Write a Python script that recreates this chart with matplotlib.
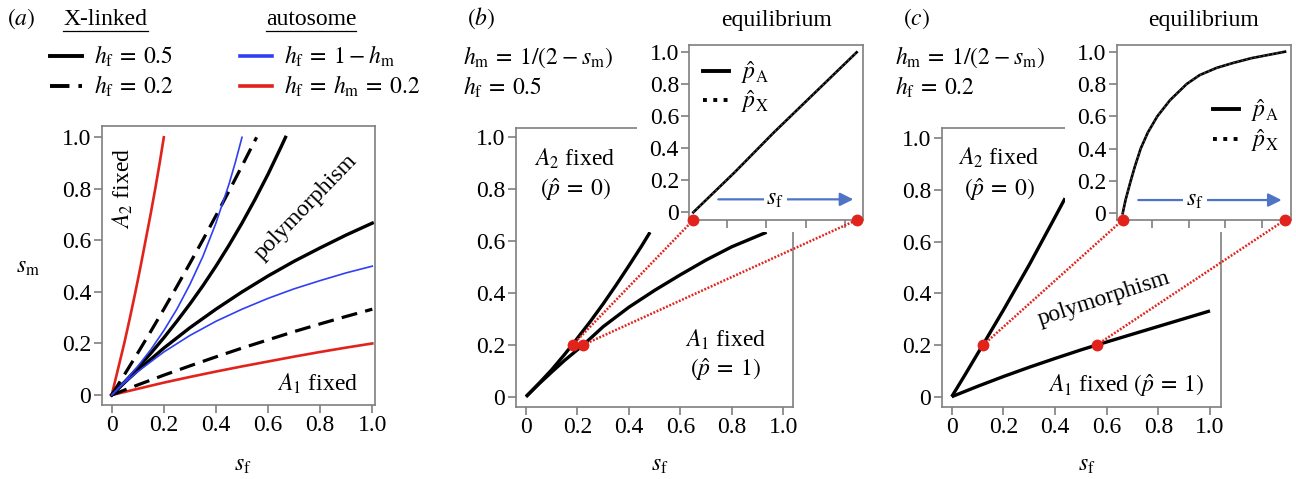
import numpy as np
import matplotlib
matplotlib.use('Agg')
import matplotlib.pyplot as plt
from matplotlib.patches import Rectangle
from matplotlib.lines import Line2D

plt.rcParams['font.family'] = ['Liberation Serif', 'DejaVu Serif']
plt.rcParams['mathtext.fontset'] = 'stix'
plt.rcParams['font.size'] = 17

#-------------------------------- DATA --------------------------------------------------------
# panel (a): boundaries of the polymorphic region, s_m against s_f
sf_x05_up = [0, 0.05, 0.1, 0.15, 0.2, 0.25, 0.3, 0.35, 0.4, 0.45, 0.5, 0.55, 0.6, 0.65, 0.667]
sm_x05_up = [0, 0.051, 0.105, 0.162, 0.222, 0.286, 0.353, 0.424, 0.5, 0.581, 0.667, 0.759,
             0.857, 0.963, 1.0]
sf_x05_lo = [0, 0.05, 0.1, 0.2, 0.3, 0.4, 0.5, 0.6, 0.7, 0.8, 0.9, 1.0]
sm_x05_lo = [0, 0.049, 0.095, 0.182, 0.261, 0.333, 0.4, 0.462, 0.519, 0.571, 0.621, 0.667]
sf_x02_up = [0, 0.05, 0.1, 0.15, 0.2, 0.25, 0.3, 0.35, 0.4, 0.45, 0.5, 0.556]
sm_x02_up = [0, 0.081, 0.163, 0.247, 0.333, 0.421, 0.511, 0.602, 0.696, 0.791, 0.889, 1.0]
sf_x02_lo = [0, 0.1, 0.2, 0.3, 0.4, 0.5, 0.6, 0.7, 0.8, 0.9, 1.0]
sm_x02_lo = [0, 0.039, 0.077, 0.113, 0.148, 0.182, 0.214, 0.246, 0.276, 0.305, 0.333]
sf_add_up = [0, 0.05, 0.1, 0.15, 0.2, 0.25, 0.3, 0.35, 0.4, 0.45, 0.475, 0.5]
sm_add_up = [0, 0.053, 0.111, 0.176, 0.25, 0.333, 0.429, 0.538, 0.667, 0.818, 0.905, 1.0]
sf_add_lo = [0, 0.05, 0.1, 0.2, 0.3, 0.4, 0.5, 0.6, 0.7, 0.8, 0.9, 1.0]
sm_add_lo = [0, 0.048, 0.091, 0.167, 0.231, 0.286, 0.333, 0.375, 0.412, 0.444, 0.474, 0.5]
sf_h02_up = [0, 0.024, 0.048, 0.07, 0.091, 0.111, 0.13, 0.149, 0.167, 0.184, 0.2]
sm_h02_up = [0, 0.1, 0.2, 0.3, 0.4, 0.5, 0.6, 0.7, 0.8, 0.9, 1.0]
sf_h02_lo = [0, 0.1, 0.2, 0.3, 0.4, 0.5, 0.6, 0.7, 0.8, 0.9, 1.0]
sm_h02_lo = [0, 0.024, 0.048, 0.07, 0.091, 0.111, 0.13, 0.149, 0.167, 0.184, 0.2]

# panel (b): h_m = 1/(2 - s_m), h_f = 0.5
sf_b_up = [0, 0.05, 0.1, 0.15, 0.18, 0.25, 0.3, 0.35, 0.4, 0.45, 0.482]
sm_b_up = [0, 0.051, 0.104, 0.163, 0.2, 0.29, 0.358, 0.43, 0.505, 0.582, 0.634]
sf_b_lo = [0, 0.05, 0.1, 0.15, 0.223, 0.3, 0.4, 0.5, 0.6, 0.7, 0.8, 0.935]
sm_b_lo = [0, 0.049, 0.095, 0.14, 0.2, 0.27, 0.345, 0.41, 0.47, 0.527, 0.578, 0.634]
b_dots_sf = [0.1815, 0.223]
# inset (b): equilibrium frequency along s_m = 0.2
sf_ib = [0.1815, 0.192, 0.202, 0.2125, 0.223]
p_ib = [0, 0.25, 0.5, 0.75, 1.0]
ib_ticks = [0.19, 0.20, 0.21, 0.22]

# panel (c): h_m = 1/(2 - s_m), h_f = 0.2
sf_c_up = [0, 0.05, 0.122, 0.2, 0.3, 0.4, 0.439]
sm_c_up = [0, 0.082, 0.203, 0.335, 0.51, 0.695, 0.768]
sf_c_lo = [0, 0.1, 0.2, 0.3, 0.4, 0.5, 0.561, 0.7, 0.8, 0.9, 1.0]
sm_c_lo = [0, 0.04, 0.078, 0.114, 0.148, 0.181, 0.2, 0.242, 0.272, 0.302, 0.332]
c_dots_sf = [0.122, 0.561]
sf_ic = [0.122, 0.13, 0.1436, 0.155, 0.1706, 0.19, 0.2156, 0.25, 0.295, 0.33, 0.376, 0.42,
         0.47, 0.52, 0.561]
p_ic = [0, 0.085, 0.2, 0.29, 0.4, 0.5, 0.6, 0.7, 0.8, 0.855, 0.9, 0.93, 0.96, 0.982, 1.0]
ic_ticks = [0.2, 0.3, 0.4, 0.5]

dot_sm = 0.2
ticks = [0, 0.2, 0.4, 0.6, 0.8, 1.0]
tick_labels = ['0', '0.2', '0.4', '0.6', '0.8', '1.0']

#-------------------------------- HELPERS ------------------------------------------------------
W, H = 1296, 479
def fx(px): return px / W
def fy(py): return 1 - py / H
def rect(l, t, r, b): return [fx(l), fy(b), fx(r) - fx(l), fy(t) - fy(b)]

red = '#e1231c'
blue = '#2f3ff2'
arrow_blue = '#4f74c6'
grey = '#7f7f7f'

def style(ax, labels=True):
    for s in ax.spines.values():
        s.set_color(grey)
        s.set_linewidth(1.2)
    ax.tick_params(direction='out', length=5.5, width=1.2, color=grey, pad=2)
    ax.set_yticks(ticks, labels=tick_labels, fontsize=17)
    if labels:
        ax.set_xticks(ticks, labels=tick_labels, fontsize=17)

fig = plt.figure(figsize=(W / 100, H / 100), dpi=100)

#-------------------------------- PANEL (a) ----------------------------------------------------
ax = fig.add_axes(rect(101.7, 126, 375, 405))
ax.plot(sf_h02_up, sm_h02_up, color=red, lw=1.9)
ax.plot(sf_h02_lo, sm_h02_lo, color=red, lw=1.9)
ax.plot(sf_x02_up, sm_x02_up, color='k', lw=2.3, dashes=(5, 2.6))
ax.plot(sf_x02_lo, sm_x02_lo, color='k', lw=2.3, dashes=(5, 2.6))
ax.plot(sf_x05_up, sm_x05_up, color='k', lw=2.4)
ax.plot(sf_x05_lo, sm_x05_lo, color='k', lw=2.4)
ax.plot(sf_add_up, sm_add_up, color=blue, lw=1.2)
ax.plot(sf_add_lo, sm_add_lo, color=blue, lw=1.2)
ax.set_xlim(-0.0384, 1.0104)
ax.set_ylim(-0.0388, 1.0439)
style(ax)
ax.text(0.043, 0.80, r'$A_2$ fixed', rotation=90, ha='center', va='center')
ax.text(0.746, 0.731, 'polymorphism', rotation=46, ha='center', va='center')
ax.text(0.792, 0.045, r'$A_1$ fixed', ha='center', va='center')

fig.text(fx(21), fy(25), r'$(a)$', ha='center', va='baseline')
hx = fig.text(fx(105.5), fy(25), 'X-linked', ha='center', va='baseline')
ha_ = fig.text(fx(311), fy(25), 'autosome', ha='center', va='baseline')
fig.text(fx(28), fy(268), r'$s_\mathrm{m}$', ha='center', va='center')
fig.text(fx(243), fy(465), r'$s_\mathrm{f}$', ha='center', va='center')

leg_x = [Line2D([], [], color='k', lw=2.8), Line2D([], [], color='k', lw=2.8, dashes=(5, 2.3))]
fig.legend(leg_x, [r'$h_\mathrm{f}\:=\:0.5$', r'$h_\mathrm{f}\:=\:0.2$'], loc='upper left',
           bbox_to_anchor=(fx(50), fy(44)), frameon=False, handlelength=1.35,
           handletextpad=0.5, labelspacing=0.2, borderpad=0, borderaxespad=0, fontsize=17)
leg_a = [Line2D([], [], color=blue, lw=2.6), Line2D([], [], color=red, lw=2.6)]
fig.legend(leg_a, [r'$h_\mathrm{f}\:=\:1\:-\:h_\mathrm{m}$',
                   r'$h_\mathrm{f}\:=\:h_\mathrm{m}\:=\:0.2$'],
           loc='upper left', bbox_to_anchor=(fx(240), fy(44)), frameon=False, handlelength=1.35,
           handletextpad=0.5, labelspacing=0.2, borderpad=0, borderaxespad=0, fontsize=17)

#-------------------------------- PANELS (b) and (c) -------------------------------------------
def panel(frame, xlim, ylim, up, lo, dots, box, inset_frame, ixlim, iylim,
          icurve, iticks, leg_loc, arrow, letter, lx, htext):
    m = fig.add_axes(rect(*frame))
    m.plot(up[0], up[1], color='k', lw=2.4, solid_capstyle='butt')
    m.plot(lo[0], lo[1], color='k', lw=2.4, solid_capstyle='butt')
    m.plot(dots, [dot_sm] * len(dots), 'o', color=red, ms=7.5, zorder=5)
    m.set_xlim(*xlim)
    m.set_ylim(*ylim)
    style(m)

    # white box hiding the corner of the main axes behind the inset
    fig.add_artist(Rectangle((fx(box[0]), fy(box[3])), fx(box[2]) - fx(box[0]),
                             fy(box[1]) - fy(box[3]), transform=fig.transFigure,
                             facecolor='white', edgecolor='none', zorder=1))

    ins = fig.add_axes(rect(*inset_frame))
    ins.set_zorder(2)
    ins.plot(icurve[0], icurve[1], color='k', lw=1.9)
    ins.plot(icurve[0], icurve[1], color='#444444', lw=1.2, linestyle=':')
    ins.set_xlim(*ixlim)
    ins.set_ylim(*iylim)
    style(ins, labels=False)
    ins.set_xticks(iticks, labels=[])
    ins_ends = [icurve[0][0], icurve[0][-1]]
    ins.plot(ins_ends, [0, 0], 'o', color=red, ms=7.5,
             transform=ins.get_xaxis_transform(), clip_on=False, zorder=6)
    hl = [Line2D([], [], color='k', lw=2.8), Line2D([], [], color='k', lw=2.8, linestyle=':')]
    ins.legend(hl, [r'$\hat{p}_\mathrm{A}$', r'$\hat{p}_\mathrm{X}$'], loc='upper left',
               bbox_to_anchor=leg_loc, frameon=False, handlelength=1.1, handletextpad=0.5,
               labelspacing=0.1, borderpad=0, borderaxespad=0, fontsize=17)
    ins.annotate('', xy=(arrow[1], arrow[3]), xytext=(arrow[0], arrow[3]),
                 xycoords='axes fraction',
                 arrowprops=dict(arrowstyle='-|>', color=arrow_blue, lw=1.6, mutation_scale=20,
                                 shrinkA=0, shrinkB=0))
    ins.text(arrow[2], arrow[3], r'$s_\mathrm{f}$', transform=ins.transAxes, ha='center',
             va='center', bbox=dict(fc='white', ec='none', pad=2))

    # dotted red links from the boundary points to the ends of the inset axis
    to_fig = fig.transFigure.inverted()
    for s_main, s_ins in zip(dots, ins_ends):
        pa = to_fig.transform(m.transData.transform((s_main, dot_sm)))
        pb = to_fig.transform(ins.get_xaxis_transform().transform((s_ins, 0)))
        fig.add_artist(Line2D([pa[0], pb[0]], [pa[1], pb[1]], transform=fig.transFigure,
                              color=red, lw=1.8, dashes=(0.75, 0.65), zorder=5))

    fig.text(fx(letter[0]), fy(25), letter[1], ha='center', va='baseline')
    fig.text((fx(inset_frame[0]) + fx(inset_frame[2])) / 2, fy(26), 'equilibrium',
             ha='center', va='baseline')
    fig.text(fx(lx), fy(64), r'$h_\mathrm{m}\:=\:1/(2\:-\:s_\mathrm{m})$', ha='left',
             va='baseline')
    fig.text(fx(lx), fy(95), htext, ha='left', va='baseline')
    fig.text((fx(frame[0]) + fx(frame[2])) / 2 + 0.004, fy(465), r'$s_\mathrm{f}$',
             ha='center', va='center')
    return m

mb = panel((515.7, 127.7, 792.7, 406.7), (-0.040, 1.0365), (-0.0386, 1.037),
           (sf_b_up, sm_b_up), (sf_b_lo, sm_b_lo), b_dots_sf,
           (636.7, 35, 876, 232.3), (689.3, 45, 862.7, 220), (0.18048, 0.22453),
           (-0.048, 1.0456), (sf_ib, p_ib), ib_ticks, (0.079, 0.92),
           (0.167, 0.946, 0.495, 0.118), (481, r'$(b)$'), 462.7, r'$h_\mathrm{f}\:=\:0.5$')
mb.text(0.19, 0.916, r'$A_2$ fixed', ha='center', va='center')
mb.text(0.194, 0.797, r'$(\hat{p}\:=\:0)$', ha='center', va='center')
mb.text(0.777, 0.219, r'$A_1$ fixed', ha='center', va='center')
mb.text(0.777, 0.103, r'$(\hat{p}\:=\:1)$', ha='center', va='center')

mc = panel((941.7, 128.3, 1221, 406.7), (-0.0387, 1.0426), (-0.0387, 1.0387),
           (sf_c_up, sm_c_up), (sf_c_lo, sm_c_lo), c_dots_sf,
           (1065, 35, 1296, 232.3), (1116.7, 45, 1290.7, 220), (0.1058, 0.5764),
           (-0.0415, 1.0415), (sf_ic, p_ic), ic_ticks, (0.553, 0.70),
           (0.124, 0.948, 0.45, 0.114), (917, r'$(c)$'), 895, r'$h_\mathrm{f}\:=\:0.2$')
mc.text(0.183, 0.924, r'$A_2$ fixed', ha='center', va='center')
mc.text(0.184, 0.80, r'$(\hat{p}\:=\:0)$', ha='center', va='center')
mc.text(0.59, 0.378, 'polymorphism', rotation=18, ha='center', va='center')
mc.text(0.674, 0.045, r'$A_1$ fixed $(\hat{p}\:=\:1)$', ha='center', va='center')

# underline the column headers of the legend in (a)
fig.canvas.draw()
r = fig.canvas.get_renderer()
for t in (hx, ha_):
    bb = t.get_window_extent(r).transformed(fig.transFigure.inverted())
    fig.add_artist(Line2D([bb.x0, bb.x1], [fy(31), fy(31)], color='k', lw=0.9,
                          transform=fig.transFigure))

plt.savefig('out.png', dpi=100)
